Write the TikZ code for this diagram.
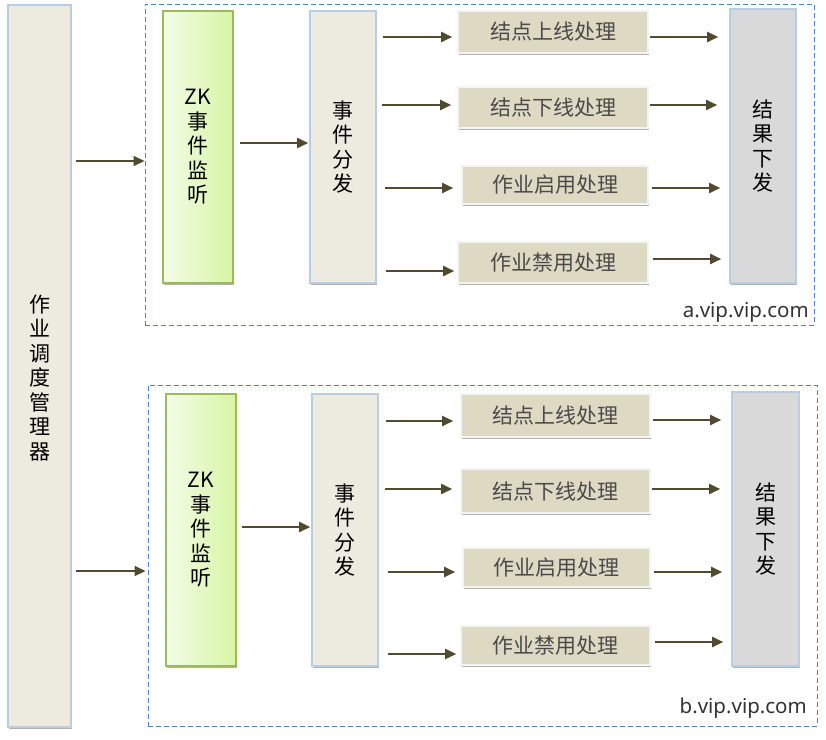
\documentclass[tikz,border=0pt]{standalone}
\usepackage{fontspec}
\setmainfont{Noto Sans CJK SC}
\newfontfamily\latinfont{Noto Sans}
\usetikzlibrary{arrows.meta,shadows}
\definecolor{boxfill}{HTML}{EDEADF}
\definecolor{boxline}{HTML}{B9CDE5}
\definecolor{zkL}{HTML}{F3FCE8}
\definecolor{zkR}{HTML}{D7F5A3}
\definecolor{zkline}{HTML}{9BBB59}
\definecolor{procfill}{HTML}{DDD9C3}
\definecolor{procline}{HTML}{F4F4F4}
\definecolor{resfill}{HTML}{D9D9D9}
\definecolor{arrcol}{HTML}{4F4A30}
\definecolor{framecol}{HTML}{4F81BD}
\definecolor{proctext}{HTML}{4A4A4A}
\newcommand\myconn[5]{%
  \coordinate (tmpc) at (0,#3);
  \draw[arr,shorten <=#4pt,shorten >=#5pt] (#1.east |- tmpc) -- (#2.west |- tmpc);}
\begin{document}
\begin{tikzpicture}[x=1pt,y=-1pt,
  shd/.style={drop shadow={shadow xshift=1.2pt,shadow yshift=-2.2pt,opacity=0.3,fill=black}},
  vbox/.style={draw=boxline,fill=boxfill,line width=1.6pt,inner sep=0pt,align=center,shd,
    font=\fontsize{21}{24.5}\selectfont},
  zkbox/.style={draw=zkline,left color=zkL,right color=zkR,line width=1.6pt,inner sep=0pt,align=center,shd,
    font=\fontsize{21}{24.5}\selectfont},
  resbox/.style={draw=boxline,fill=resfill,line width=1.6pt,inner sep=0pt,align=center,shd,
    font=\fontsize{21}{24.5}\selectfont},
  procbox/.style={draw=procline,fill=procfill,line width=1.6pt,inner sep=0pt,shd,text=proctext,
    font=\fontsize{21}{24}\selectfont},
  frame/.style={draw=framecol,dash pattern=on 5pt off 3pt,line width=1pt,inner sep=0pt},
  arr/.style={draw=arrcol,line width=2pt,-{Triangle[length=11pt,width=10pt]}},
  urltext/.style={font=\latinfont\fontsize{20.5}{24}\selectfont,text=black!80,inner sep=0pt}
]
\useasboundingbox (0,0) rectangle (826,739);

% frames
\node[frame,minimum width=669pt,minimum height=321pt] (FA) at (479.5,164.5) {};
\node[frame,minimum width=669pt,minimum height=341pt] (FB) at (482.5,555.5) {};
\node[urltext,anchor=base east] (la) at (809,317) {a.vip.vip.com};
\node[urltext,anchor=base east] (lb) at (807,713) {b.vip.vip.com};

% left manager
\node[vbox,minimum width=63pt,minimum height=722pt] (L) at (39.5,366) {};
\node[inner sep=0pt,align=center,font=\fontsize{21}{24.5}\selectfont] (Lt) at (39.5,378) {作\\业\\调\\度\\管\\理\\器};

% top group
\node[zkbox,minimum width=70pt,minimum height=272pt] (ZA) at (198,147) {ZK\\事\\件\\监\\听};
\node[vbox,minimum width=66pt,minimum height=272pt] (DA) at (343,147) {事\\件\\分\\发};
\node[procbox,minimum width=190pt,minimum height=42pt] (PA1) at (553,32) {结点上线处理};
\node[procbox,minimum width=190pt,minimum height=41pt] (PA2) at (553,107.5) {结点下线处理};
\node[procbox,minimum width=186pt,minimum height=38pt] (PA3) at (555,185) {作业启用处理};
\node[procbox,minimum width=190pt,minimum height=41pt] (PA4) at (553,262.5) {作业禁用处理};
\node[resbox,minimum width=66pt,minimum height=274pt] (RA) at (763,146) {结\\果\\下\\发};

% bottom group
\node[zkbox,minimum width=70pt,minimum height=272pt] (ZB) at (201,530) {ZK\\事\\件\\监\\听};
\node[vbox,minimum width=66pt,minimum height=272pt] (DB) at (345,530) {事\\件\\分\\发};
\node[procbox,minimum width=189pt,minimum height=43pt] (PB1) at (555.5,415.5) {结点上线处理};
\node[procbox,minimum width=189pt,minimum height=44pt] (PB2) at (555.5,491) {结点下线处理};
\node[procbox,minimum width=187pt,minimum height=39pt] (PB3) at (556.5,567.5) {作业启用处理};
\node[procbox,minimum width=189pt,minimum height=39pt] (PB4) at (555.5,645.5) {作业禁用处理};
\node[resbox,minimum width=67pt,minimum height=274pt] (RB) at (765.5,529) {结\\果\\下\\发};

% connectors top
\myconn{L}{FA}{161}{4}{0}
\myconn{ZA}{DA}{143}{6}{1}
\myconn{DA}{PA1}{37}{6}{5}
\myconn{DA}{PA2}{105}{5}{6}
\myconn{DA}{PA3}{188}{8}{8}
\myconn{DA}{PA4}{271}{9}{3}
\myconn{PA1}{RA}{37}{1}{11}
\myconn{PA2}{RA}{105}{1}{12}
\myconn{PA3}{RA}{188}{3}{9}
\myconn{PA4}{RA}{259}{4}{8}

% connectors bottom
\myconn{L}{FB}{571}{4}{2}
\myconn{ZB}{DB}{527}{5}{1}
\myconn{DB}{PB1}{421}{7}{7}
\myconn{DB}{PB2}{489}{6}{8}
\myconn{DB}{PB3}{572}{9}{7}
\myconn{DB}{PB4}{654}{9}{4}
\myconn{PB1}{RB}{420}{2}{10}
\myconn{PB2}{RB}{489}{1}{11}
\myconn{PB3}{RB}{572}{3}{9}
\myconn{PB4}{RB}{642}{4}{8}
\end{tikzpicture}
\end{document}
